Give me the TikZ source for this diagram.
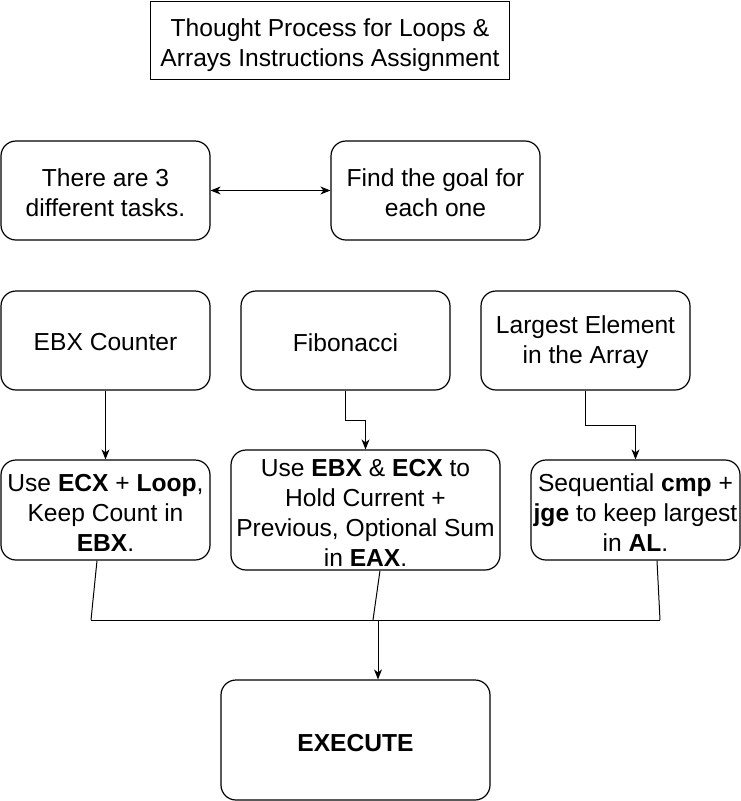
\documentclass[tikz,border=0pt]{standalone}
\usepackage{fontspec}
\setmainfont{Liberation Sans}
\usetikzlibrary{arrows.meta}
\begin{document}
\begin{tikzpicture}[x=1pt,y=-1pt,
  every node/.style={inner sep=0pt},
  txt/.style={font=\fontsize{24.6}{30}\selectfont, align=center, inner sep=0pt},
  plainbox/.style={draw, line width=1.2pt, minimum width=359pt, minimum height=78pt},
  rbox/.style={draw, line width=1.2pt, rounded corners=15pt, minimum width=#1},
  rbox/.default=209pt,
  conn/.style={line width=1pt},
  arr/.style={conn, -{Stealth[length=10pt,width=8pt,inset=3pt]}},
  darr/.style={conn, {Stealth[length=10pt,width=8pt,inset=3pt]}-{Stealth[length=10pt,width=8pt,inset=3pt]}}
]
\useasboundingbox (0,0) rectangle (741,801);
\node[plainbox] (title) at (330,40.5) {};
\node[rbox, minimum height=99pt] (A) at (105.5,190.5) {};
\node[rbox, minimum height=99pt] (B) at (435.5,190.5) {};
\node[rbox, minimum height=99pt] (E1) at (105.5,340.5) {};
\node[rbox, minimum height=99pt] (E2) at (345.5,340.5) {};
\node[rbox, minimum height=99pt] (E3) at (585.5,340.5) {};
\node[rbox, minimum height=100pt] (C1) at (105.5,510) {};
\node[rbox=269pt, minimum height=120pt] (C2) at (365.5,510) {};
\node[rbox, minimum height=100pt] (C3) at (635.5,510) {};
\node[rbox=269pt, minimum height=120pt] (X) at (355.5,740) {};

\node[txt] (title-t) at ([yshift=-5pt]title.center) {Thought Process for Loops \&\\Arrays Instructions Assignment};
\node[txt] (A-t) at ([yshift=-2pt]A.center) {There are 3\\different tasks.};
\node[txt] (B-t) at ([yshift=-2pt]B.center) {Find the goal for\\each one};
\node[txt] (E1-t) at ([yshift=-2pt]E1.center) {EBX Counter};
\node[txt] (E2-t) at ([yshift=-2pt]E2.center) {Fibonacci};
\node[txt] (E3-t) at ([yshift=-2pt]E3.center) {Largest Element\\in the Array};
\node[txt] (C1-t) at ([yshift=-3pt]C1.center) {Use \textbf{ECX} + \textbf{Loop},\\Keep Count in\\\textbf{EBX}.};
\node[txt] (C2-t) at ([yshift=-3pt]C2.center) {Use \textbf{EBX} \& \textbf{ECX} to\\Hold Current +\\Previous, Optional Sum\\in \textbf{EAX}.};
\node[txt] (C3-t) at ([yshift=-3pt]C3.center) {Sequential \textbf{cmp} +\\\textbf{jge} to keep largest\\in \textbf{AL}.};
\node[txt] (X-t) at ([yshift=-3pt]X.center) {\textbf{EXECUTE}};

\draw[darr] (A) -- (B);
\draw[arr] (E1) -- (C1);
\draw[arr] (E2.south) -- ++(0,30) -| (C2.north);
\draw[arr] (E3.south) -- ++(0,35) -| (C3.north);

\coordinate (m1) at (91,620);
\coordinate (m2) at (373,620);
\coordinate (m3) at (660,620);
\coordinate (mx) at (378,620);
\draw[conn] ([xshift=-8.5pt]C1.south) -- (m1);
\draw[conn] ([xshift=14.5pt]C2.south) -- (m2);
\draw[conn] ([xshift=21.5pt]C3.south) -- (m3);
\draw[conn] (m1) -- (m3);
\draw[arr] (mx) -- (mx |- X.north);
\end{tikzpicture}
\end{document}
